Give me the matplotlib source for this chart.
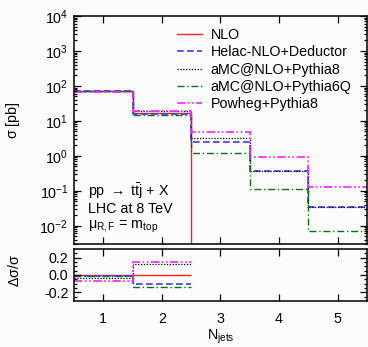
import matplotlib
matplotlib.use("Agg")
import matplotlib.pyplot as plt
from matplotlib.ticker import NullFormatter
import numpy as np

plt.rcParams['font.family'] = ['Liberation Sans', 'DejaVu Sans']
plt.rcParams['mathtext.fontset'] = 'custom'
plt.rcParams['mathtext.rm'] = 'Liberation Sans'
plt.rcParams['mathtext.it'] = 'Liberation Sans'
plt.rcParams['mathtext.default'] = 'regular'
plt.rcParams['axes.unicode_minus'] = False
plt.rcParams['font.size'] = 10.3

# bin edges in number of jets
edges = [0.5, 1.5, 2.5, 3.5, 4.5, 5.5]

# cross sections in pb per jet bin
nlo = [72.0, 17.0, 0.0, 0.0, 0.0]
helac = [71.0, 15.3, 2.5, 0.37, 0.035]
amc_py8 = [69.5, 19.2, 3.2, 0.36, 0.034]
amc_py6q = [71.0, 14.6, 1.2, 0.115, 0.0072]
powheg = [67.0, 19.4, 4.85, 0.93, 0.13]

# relative deviation from NLO (first two bins only)
ratio_edges = [0.5, 1.5, 2.5]
r_nlo = [0.0, 0.0]
r_helac = [-0.01, -0.10]
r_amc_py8 = [-0.035, 0.13]
r_amc_py6q = [-0.015, -0.14]
r_powheg = [-0.07, 0.145]

labels = ['NLO', 'Helac-NLO+Deductor', 'aMC@NLO+Pythia8',
          'aMC@NLO+Pythia6Q', 'Powheg+Pythia8']
colors = ['#ff2020', '#3a3aff', 'black', '#00780a', '#ff20ff']
styles = ['-', (0, (4, 2)), (0, (1, 1.3)), (0, (5, 2, 1, 2)), (0, (5, 1.5, 1, 1.5, 1, 1.5))]
widths = [1.0, 1.2, 0.9, 1.0, 1.2]

ymin, ymax = 3e-3, 1e4
decades = [1e-2, 1e-1, 1e0, 1e1, 1e2, 1e3, 1e4]
bg = '#fcfcfc'

fig = plt.figure(figsize=(3.68, 3.47), dpi=100, facecolor=bg)
ax = fig.add_axes([0.201, 0.2968, 0.796, 0.657], facecolor=bg)
axr = fig.add_axes([0.201, 0.1326, 0.796, 0.150], facecolor=bg)

series = [nlo, helac, amc_py8, amc_py6q, powheg]
for vals, lab, c, ls, lw in zip(series, labels, colors, styles, widths):
    v = np.array(vals)
    v = np.where(v > 0, v, ymin)
    ax.stairs(v, edges, baseline=None, color=c, linestyle=ls, linewidth=lw, label=lab)

rseries = [r_nlo, r_helac, r_amc_py8, r_amc_py6q, r_powheg]
for vals, c, ls, lw in zip(rseries, colors, styles, widths):
    axr.stairs(vals, ratio_edges, baseline=None, color=c, linestyle=ls, linewidth=lw)

ax.set_yscale('log')
ax.set_yticks(decades)
ax.yaxis.set_minor_formatter(NullFormatter())
ax.set_ylim(ymin, ymax)
ax.set_xlim(0.5, 5.5)
ax.set_xticks([1, 2, 3, 4, 5])
ax.set_xticklabels([])
ax.set_ylabel(r'$\sigma$ [pb]')
ax.yaxis.set_label_coords(-0.177, 0.544)

axr.set_xlim(0.5, 5.5)
axr.set_ylim(-0.3, 0.3)
axr.set_xticks([1, 2, 3, 4, 5])
axr.set_yticks([-0.2, 0.0, 0.2])
axr.set_yticklabels(['-0.2', '0.0', '0.2'])
axr.set_yticks(np.arange(-0.25, 0.3, 0.05), minor=True)
axr.set_xlabel(r'N$_{\rm jets}$', labelpad=1)
axr.set_ylabel(r'$\Delta\sigma/\sigma$')
axr.yaxis.set_label_coords(-0.177, 0.58)

for a in (ax, axr):
    a.tick_params(which='both', direction='in', top=True, right=True, width=0.9)
    a.tick_params(which='major', length=5, pad=4)
    a.tick_params(which='minor', length=2.5)
    a.tick_params(axis='x', which='major', pad=8)
    for s in a.spines.values():
        s.set_linewidth(1.1)

ax.legend(loc='upper left', bbox_to_anchor=(0.352, 0.949), frameon=False,
          handlelength=1.75, handletextpad=0.6, labelspacing=0.24,
          borderaxespad=0, borderpad=0)

ax.text(0.048, 0.23, r'pp $\rightarrow$ t$\bar{\rm t}$j + X', transform=ax.transAxes, va='center')
ax.text(0.048, 0.155, 'LHC at 8 TeV', transform=ax.transAxes, va='center')
ax.text(0.048, 0.068, r'$\mu_{\rm R,F}$ = m$_{\rm top}$', transform=ax.transAxes, va='baseline')

fig.savefig('out.png', dpi=100, facecolor=bg)
